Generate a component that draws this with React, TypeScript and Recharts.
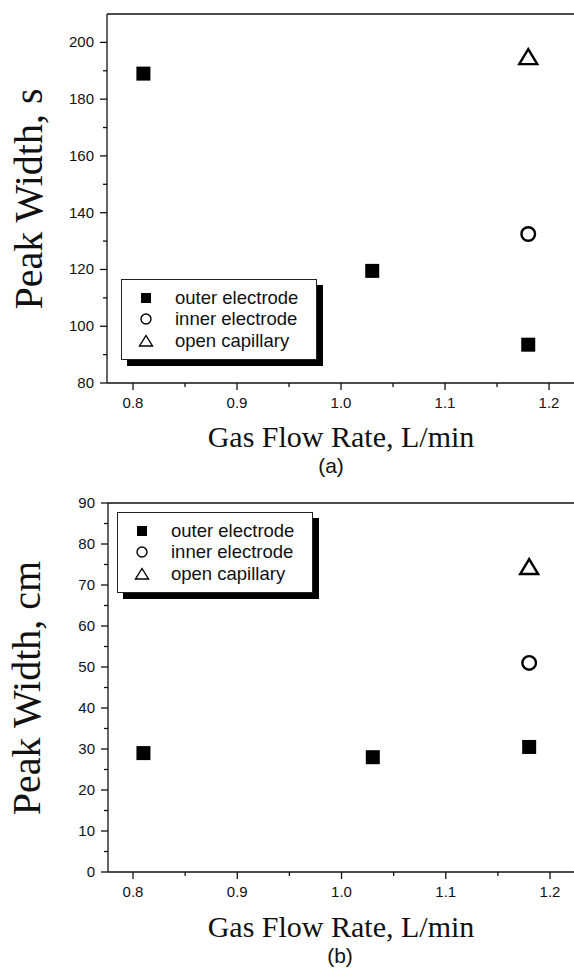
import { ScatterChart, Scatter, XAxis, YAxis, ReferenceLine, Legend } from 'recharts';

// gas flow rate, L/min
const flowRates = [0.81, 1.03, 1.18];
const singleFlow = [1.18];

// (a) peak width in seconds
const outerWidthS = [189, 119.5, 93.5];
const innerWidthS = [132.5];
const openWidthS = [195];

// (b) peak width in cm
const outerWidthCm = [29, 28, 30.5];
const innerWidthCm = [51];
const openWidthCm = [74.5];

const seriesNames = ['outer electrode', 'inner electrode', 'open capillary'];

const xMajor = [0.8, 0.9, 1.0, 1.1, 1.2];
const xMinor = [0.85, 0.95, 1.05, 1.15];
const yMajorS = [80, 100, 120, 140, 160, 180, 200];
const yMinorS = [90, 110, 130, 150, 170, 190];
const yMajorCm = [0, 10, 20, 30, 40, 50, 60, 70, 80, 90];
const yMinorCm = [5, 15, 25, 35, 45, 55, 65, 75, 85];

const INK = '#111';
const SANS = '"Liberation Sans", Arial, sans-serif';
const SERIF = '"Liberation Serif", "Times New Roman", serif';

const toPoints = (xs: number[], ys: number[]) => xs.map((x, i) => ({ x, y: ys[i] }));
const merge = (a: number[], b: number[]) => [...a, ...b].sort((p, q) => p - q);
const isIn = (list: number[], v: number) => list.some(m => Math.abs(m - v) < 1e-6);

// markers
const SquareDot = (p: any) => <rect x={p.cx - 7} y={p.cy - 7} width={14} height={14} fill="#000" />;
const CircleDot = (p: any) => <circle cx={p.cx} cy={p.cy} r={6.8} fill="#fff" stroke="#000" strokeWidth={2.4} />;
const TriangleDot = (p: any) => (
  <path d={`M${p.cx},${p.cy - 7.5} L${p.cx + 9},${p.cy + 7.5} L${p.cx - 9},${p.cy + 7.5} Z`} fill="#fff" stroke="#000" strokeWidth={2.4} strokeLinejoin="miter" />
);

function LegendMarker({ i }: { i: number }) {
  const cx = 24, cy = 10;
  if (i === 0) return <rect x={cx - 5} y={cy - 5} width={10} height={10} fill="#000" />;
  if (i === 1) return <circle cx={cx} cy={cy} r={5} fill="#fff" stroke="#000" strokeWidth={1.4} />;
  return <path d={`M${cx},${cy - 5.5} L${cx + 6.5},${cy + 5} L${cx - 6.5},${cy + 5} Z`} fill="#fff" stroke="#000" strokeWidth={1.4} />;
}

const LegendBox = () => (
  <div style={{
    width: 196, height: 81, boxSizing: 'border-box', border: '1px solid #222',
    background: '#fff', boxShadow: '6px 6px 0 #000', paddingTop: 7
  }}>
    {seriesNames.map((name, i) => (
      <div key={name} style={{ display: 'flex', alignItems: 'center', height: 21.5 }}>
        <svg width={53} height={20} style={{ display: 'block' }}><LegendMarker i={i} /></svg>
        <span style={{ fontFamily: SANS, fontSize: 18.5, color: '#111', lineHeight: '20px', whiteSpace: 'nowrap' }}>{name}</span>
      </div>
    ))}
  </div>
);

function makeXTick(axisY: number) {
  return (props: any) => {
    const { x, payload } = props;
    const major = isIn(xMajor, payload.value);
    return (
      <g>
        <line x1={x} x2={x} y1={axisY} y2={axisY + (major ? 7 : 4)} stroke={INK} strokeWidth={1.3} />
        {major && (
          <text x={x} y={axisY + 25} textAnchor="middle" fontFamily={SANS} fontSize={15} fill={INK}>
            {payload.value.toFixed(1)}
          </text>
        )}
      </g>
    );
  };
}

function makeYTick(axisX: number, majors: number[]) {
  return (props: any) => {
    const { y, payload } = props;
    const major = isIn(majors, payload.value);
    return (
      <g>
        <line x1={axisX - (major ? 7 : 4)} x2={axisX} y1={y} y2={y} stroke={INK} strokeWidth={1.3} />
        {major && (
          <text x={axisX - 13} y={y + 5} textAnchor="end" fontFamily={SANS} fontSize={15} fill={INK}>
            {payload.value}
          </text>
        )}
      </g>
    );
  };
}

interface PanelProps {
  height: number;
  top: number;
  left: number;
  yDomain: [number, number];
  xDomain: [number, number];
  yMajor: number[];
  yMinor: number[];
  outer: number[];
  inner: number[];
  open: number[];
  yTitle: string;
  yTitleX: number;
  yTitleY: number;
  xTitleY: number;
  tag: string;
  tagX: number;
  tagY: number;
  legendLeft: number;
  legendTop: number;
}

function Panel(p: PanelProps) {
  const xAxisH = 97;
  const plotBottom = p.height - xAxisH;
  return (
    <ScatterChart width={574} height={p.height} margin={{ top: p.top, right: 0, left: 0, bottom: 0 }}>
      <XAxis
        type="number"
        dataKey="x"
        domain={p.xDomain}
        allowDataOverflow
        ticks={merge(xMajor, xMinor)}
        interval={0}
        height={xAxisH}
        tickLine={false}
        axisLine={{ stroke: INK, strokeWidth: 1.3 }}
        tick={makeXTick(plotBottom)}
        label={() => (
          <g>
            <text x={341} y={p.xTitleY} textAnchor="middle" fontFamily={SERIF} fontSize={30} fill={INK}>
              Gas Flow Rate, L/min
            </text>
            <text x={p.tagX} y={p.tagY} textAnchor="middle" fontFamily={SANS} fontSize={21} fill={INK}>
              {p.tag}
            </text>
          </g>
        )}
      />
      <YAxis
        type="number"
        dataKey="y"
        domain={p.yDomain}
        allowDataOverflow
        ticks={merge(p.yMajor, p.yMinor)}
        interval={0}
        width={p.left}
        tickLine={false}
        axisLine={{ stroke: INK, strokeWidth: 1.3 }}
        tick={makeYTick(p.left, p.yMajor)}
        label={() => (
          <text
            x={p.yTitleX}
            y={p.yTitleY}
            transform={`rotate(-90, ${p.yTitleX}, ${p.yTitleY})`}
            textAnchor="middle"
            fontFamily={SERIF}
            fontSize={40}
            fill={INK}
          >
            {p.yTitle}
          </text>
        )}
      />
      <ReferenceLine y={p.yDomain[1]} stroke={INK} strokeWidth={1.3} />
      <Legend
        layout="horizontal"
        verticalAlign="middle"
        align="center"
        wrapperStyle={{ left: p.legendLeft, top: p.legendTop, width: 'auto' }}
        content={() => <LegendBox />}
      />
      <Scatter name={seriesNames[0]} data={toPoints(flowRates, p.outer)} shape={SquareDot} isAnimationActive={false} />
      <Scatter name={seriesNames[1]} data={toPoints(singleFlow, p.inner)} shape={CircleDot} isAnimationActive={false} />
      <Scatter name={seriesNames[2]} data={toPoints(singleFlow, p.open)} shape={TriangleDot} isAnimationActive={false} />
    </ScatterChart>
  );
}

export default function App() {
  return (
    <div style={{ position: 'absolute', left: 0, top: 0, width: 574, height: 969, background: '#fff' }}>
      <Panel
        height={480}
        top={14}
        left={107}
        yDomain={[80, 210]}
        xDomain={[0.775, 1.224]}
        yMajor={yMajorS}
        yMinor={yMinorS}
        outer={outerWidthS}
        inner={innerWidthS}
        open={openWidthS}
        yTitle="Peak Width, s"
        yTitleX={42}
        yTitleY={199}
        xTitleY={447}
        tag="(a)"
        tagX={331}
        tagY={473}
        legendLeft={121}
        legendTop={279}
      />
      <Panel
        height={489}
        top={23}
        left={108}
        yDomain={[0, 90]}
        xDomain={[0.776, 1.223]}
        yMajor={yMajorCm}
        yMinor={yMinorCm}
        outer={outerWidthCm}
        inner={innerWidthCm}
        open={openWidthCm}
        yTitle="Peak Width, cm"
        yTitleX={40}
        yTitleY={208}
        xTitleY={457}
        tag="(b)"
        tagX={340}
        tagY={483}
        legendLeft={117}
        legendTop={32}
      />
    </div>
  );
}
